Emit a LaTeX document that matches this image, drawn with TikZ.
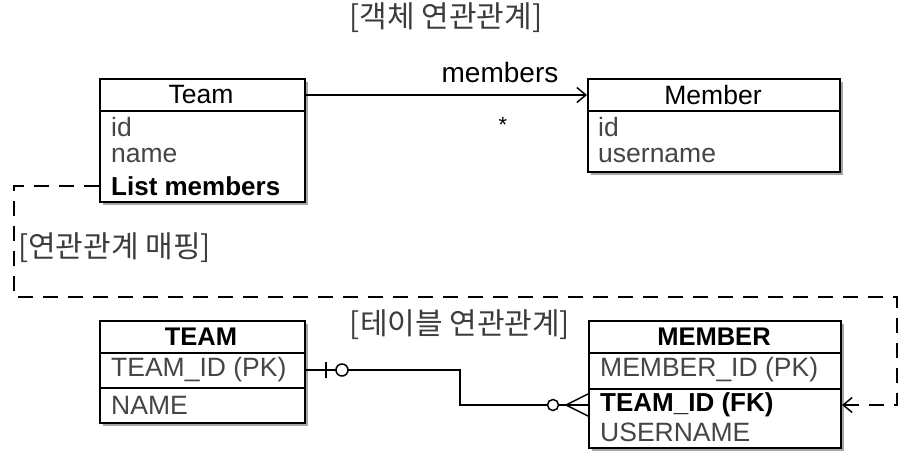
\documentclass[tikz,border=0pt]{standalone}
\usepackage{fontspec}
\setmainfont{Liberation Sans}
\newfontfamily\krfont{Noto Sans CJK KR}
\usetikzlibrary{arrows.meta,shadows}
\definecolor{attr}{HTML}{454545}
\definecolor{lbl}{HTML}{3C3C3C}
\begin{document}
\begin{tikzpicture}[x=1pt,y=-1pt,
  entity/.style={draw,line width=2pt,fill=white,anchor=north west,inner sep=0pt,
    drop shadow={shadow xshift=2.5pt,shadow yshift=-3pt,fill=black,opacity=0.35}},
  head/.style={font=\fontsize{26.5}{26.5}\selectfont,text=black,inner sep=0pt},
  headb/.style={font=\bfseries\fontsize{25.5}{25.5}\selectfont,text=black,inner sep=0pt},
  attrtext/.style={anchor=west,font=\fontsize{26.5}{26.5}\selectfont,text=attr,inner sep=0pt},
  keytext/.style={anchor=west,font=\bfseries\fontsize{26}{26}\selectfont,text=black,inner sep=0pt},
  krtext/.style={font=\krfont\fontsize{30}{30}\selectfont,text=lbl,inner sep=0pt},
  sepline/.style={line width=2pt},
  conn/.style={line width=1.5pt},
  mapline/.style={line width=1.8pt,dash pattern=on 15pt off 10pt},
  barb/.style={-{Straight Barb[length=9pt,width=15pt,line width=1.5pt]}}
]
\useasboundingbox (0,0) rectangle (902,457);

% titles
\node[krtext] (objtitle) at (446,18) {[객체 연관관계]};
\node[krtext,anchor=west] (maplbl) at (18,248) {[연관관계 매핑]};
\node[krtext] (tbltitle) at (460,325) {[테이블 연관관계]};

% object Team
\node[entity,minimum width=205pt,minimum height=123pt] (team) at (99,78) {};
\draw[sepline] (99,111) -- (304,111);
\node[head] (teamh) at (201,95) {Team};
\node[attrtext] (tid) at (111,127) {id};
\node[attrtext] (tname) at (111,156) {name};
\node[keytext] (tlist) at (111,186) {List members};

% object Member
\node[entity,minimum width=252pt,minimum height=93pt] (member) at (587,78) {};
\draw[sepline] (587,111) -- (839,111);
\node[head] (memberh) at (713,95) {Member};
\node[attrtext] (mid) at (598,127) {id};
\node[attrtext] (muser) at (598,156) {username};

% association
\draw[conn,barb] (teamh -| team.east) -- (teamh -| member.west);
\node[font=\fontsize{28}{28}\selectfont,inner sep=0pt] (mlbl) at (500,72) {members};
\node[font=\fontsize{22}{22}\selectfont,inner sep=0pt] (star) at (503,125) {*};

% table TEAM
\node[entity,minimum width=205pt,minimum height=102pt] (TEAMbox) at (99,320) {};
\draw[sepline] (99,353) -- (304,353);
\draw[sepline] (99,388) -- (304,388);
\node[headb] (TEAMh) at (201,337) {TEAM};
\node[attrtext] (tpk) at (111,370) {TEAM\_ID (PK)};
\node[attrtext] (tnm) at (111,405) {NAME};

% table MEMBER
\node[entity,minimum width=252pt,minimum height=127pt] (MEMBERbox) at (588,320) {};
\draw[sepline] (588,353) -- (840,353);
\draw[sepline] (588,389) -- (840,389);
\node[headb] (MEMBERh) at (714,337) {MEMBER};
\node[attrtext] (mpk) at (600,370) {MEMBER\_ID (PK)};
\node[keytext] (mfk) at (600,405) {TEAM\_ID (FK)};
\node[attrtext] (musr) at (600,432) {USERNAME};

% relation TEAM - MEMBER
\coordinate (bendA) at (460,370);
\draw[conn] (tpk -| TEAMbox.east) -- (bendA) |- (mfk -| MEMBERbox.west);
% one end: bar + circle
\draw[conn] ([xshift=20pt,yshift=-8pt]tpk -| TEAMbox.east) -- ([xshift=20pt,yshift=8pt]tpk -| TEAMbox.east);
\draw[conn,fill=white] ([xshift=36pt]tpk -| TEAMbox.east) circle[radius=6pt];
% many end: circle + crow's foot
\draw[conn] ([xshift=-22pt]mfk -| MEMBERbox.west) -- ([yshift=-11pt]mfk -| MEMBERbox.west);
\draw[conn] ([xshift=-22pt]mfk -| MEMBERbox.west) -- ([yshift=11pt]mfk -| MEMBERbox.west);
\draw[conn,fill=white] ([xshift=-35pt]mfk -| MEMBERbox.west) circle[radius=5.5pt];

% mapping (dashed)
\coordinate (m1) at (14,186);
\coordinate (m2) at (14,297);
\coordinate (m3) at (897,297);
\coordinate (m4) at (897,405);
\draw[mapline,barb] (tlist -| team.west) -- (m1) -- (m2) -- (m3) -- (m4) -- (mfk -| MEMBERbox.east);
\end{tikzpicture}
\end{document}
